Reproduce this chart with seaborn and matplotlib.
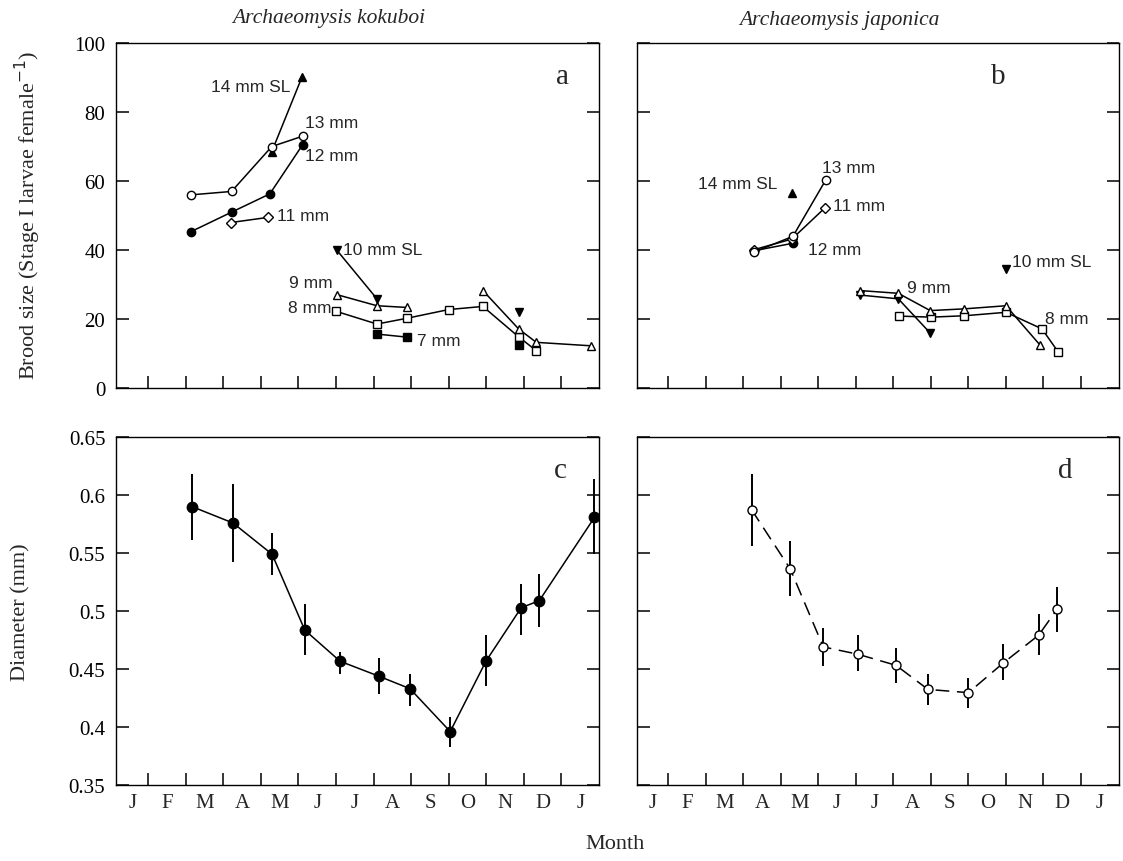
"""Brood size and egg diameter of two Archaeomysis species by month."""
import matplotlib
matplotlib.use("Agg")
import matplotlib.pyplot as plt
import pandas as pd
import seaborn as sns

# month axis: t = 1 is the end of January, t = 12 the end of December
MONTHS = ["J", "F", "M", "A", "M", "J", "J", "A", "S", "O", "N", "D", "J"]

# --- panel a: A. kokuboi brood size by size class (None = gap in line) ---
A_14_T = [4.29, 5.09]
A_14_Y = [68.5, 90.0]
A_13_T = [2.13, 3.22, 4.29, 5.11]
A_13_Y = [56.0, 57.0, 70.0, 73.0]
A_12_T = [2.13, 3.22, 4.24, 5.11]
A_12_Y = [45.3, 51.0, 56.3, 70.5]
A_11_T = [3.20, 4.20]
A_11_Y = [48.0, 49.5]
A_10_T = [6.03, 7.09, None, 10.86]
A_10_Y = [39.9, 25.9, None, 22.0]
A_9_T = [6.03, 7.09, 7.90, None, 9.91, 10.86, 11.33, 12.79]
A_9_Y = [27.1, 23.9, 23.4, None, 28.3, 17.2, 13.3, 12.3]
A_8_T = [6.00, 7.09, 7.90, 9.00, 9.91, 10.86, 11.33]
A_8_Y = [22.3, 18.6, 20.3, 22.8, 23.7, 14.9, 10.9]
A_7_T = [7.09, 7.90, None, 10.86]
A_7_Y = [15.7, 14.8, None, 12.6]

# --- panel b: A. japonica brood size ---
B_14_T = [4.29]
B_14_Y = [56.5]
B_13_T = [3.27, 4.32, 5.20]
B_13_Y = [39.4, 44.0, 60.4]
B_11_T = [3.27, 4.29, 5.17]
B_11_Y = [40.1, 43.2, 52.2]
B_12_T = [3.27, 4.32]
B_12_Y = [39.8, 42.0]
B_9_T = [6.11, 7.13, 7.98, 8.89, 10.00, 10.91]
B_9_Y = [28.3, 27.5, 22.5, 23.0, 23.9, 12.5]
B_10_T = [6.11, 7.13, 7.98, None, 10.00]
B_10_Y = [27.0, 25.9, 16.0, None, 34.5]
B_8_T = [7.16, 8.00, 8.89, 10.00, 10.96, 11.40]
B_8_Y = [20.9, 20.6, 21.0, 22.0, 17.2, 10.4]

# --- panel c: A. kokuboi egg diameter (mean, error bar ends) ---
C_T = [2.18, 3.26, 4.30, 5.17, 6.11, 7.15, 7.97, 9.04, 9.99, 10.93, 11.41, 12.88]
C_MEAN = [0.590, 0.576, 0.549, 0.4835, 0.4566, 0.4436, 0.4329, 0.3959, 0.4566, 0.5029, 0.5089, 0.5809]
C_LOW = [0.561, 0.542, 0.531, 0.4624, 0.4459, 0.4286, 0.4179, 0.383, 0.4353, 0.4797, 0.4858, 0.549]
C_HIGH = [0.618, 0.610, 0.567, 0.506, 0.4647, 0.4598, 0.4457, 0.4084, 0.4791, 0.5233, 0.5317, 0.6143]

# --- panel d: A. japonica egg diameter ---
D_T = [3.22, 4.25, 5.13, 6.05, 7.07, 7.92, 9.00, 9.93, 10.87, 11.36]
D_MEAN = [0.5874, 0.5363, 0.469, 0.4627, 0.4531, 0.4323, 0.4295, 0.4552, 0.4791, 0.5014]
D_LOW = [0.5562, 0.5133, 0.4526, 0.4479, 0.4381, 0.4191, 0.4162, 0.4401, 0.4624, 0.4815]
D_HIGH = [0.6184, 0.5609, 0.4855, 0.4791, 0.4682, 0.4453, 0.4425, 0.4713, 0.497, 0.521]

XMIN, XMAX = 0.157, 13.0
SERIF = ["Liberation Serif", "DejaVu Serif"]
SANS = ["Liberation Sans", "DejaVu Sans"]

sns.set_theme(style="ticks")
plt.rcParams["font.family"] = SERIF
plt.rcParams["axes.linewidth"] = 1.0


def segments(ts, ys):
    """Split a series at None into separate runs."""
    out, cur = [], []
    for t, y in zip(ts, ys):
        if t is None:
            if cur:
                out.append(cur)
            cur = []
        else:
            cur.append((t, y))
    if cur:
        out.append(cur)
    return out


def series(ax, ts, ys, marker, filled, ms=6, ls="-"):
    for seg in segments(ts, ys):
        df = pd.DataFrame(seg, columns=["t", "y"])
        sns.lineplot(data=df, x="t", y="y", ax=ax, sort=False, estimator=None,
                     color="black", lw=1.1, ls=ls, marker=marker, markersize=ms,
                     markerfacecolor="black" if filled else "white",
                     markeredgecolor="black", markeredgewidth=1.0)


def style_axis(ax, ylim, yticks, ylabels, show_x, show_y):
    ax.set_xlim(XMIN, XMAX)
    ax.set_ylim(*ylim)
    ax.set_yticks(yticks)
    ax.set_yticklabels(ylabels if show_y else [])
    ax.set_xticks(range(1, 13))
    ax.set_xticklabels([])
    centers = [(XMIN + 1) / 2] + [m + 0.5 for m in range(1, 13)]
    ax.set_xticks(centers, minor=True)
    ax.set_xticklabels(MONTHS if show_x else [], minor=True)
    ax.tick_params(which="major", direction="in", length=9, width=1.1,
                   right=True, top=False, labelsize=15, colors="black")
    ax.tick_params(axis="x", which="minor", length=0, labelsize=15, pad=6)
    ax.tick_params(axis="y", which="major", labelsize=15, pad=8)
    ax.set_xlabel("")
    ax.set_ylabel("")
    for s in ax.spines.values():
        s.set_visible(True)
        s.set_color("black")


def note(ax, t, y, text, ha="left"):
    ax.text(t, y, text, ha=ha, va="center", fontsize=12.5, family=SANS)


fig = plt.figure(figsize=(11.23, 8.62), dpi=100)
ax_a = fig.add_axes([0.1037, 0.5484, 0.4297, 0.4006])
ax_b = fig.add_axes([0.5670, 0.5484, 0.4290, 0.4006])
ax_c = fig.add_axes([0.1037, 0.0885, 0.4297, 0.4030])
ax_d = fig.add_axes([0.5670, 0.0885, 0.4290, 0.4030])

# panel a
series(ax_a, A_14_T, A_14_Y, "^", True)
series(ax_a, A_12_T, A_12_Y, "o", True)
series(ax_a, A_13_T, A_13_Y, "o", False)
series(ax_a, A_11_T, A_11_Y, "D", False, ms=5.5)
series(ax_a, A_10_T, A_10_Y, "v", True)
series(ax_a, A_8_T, A_8_Y, "s", False, ms=5.5)
series(ax_a, A_9_T, A_9_Y, "^", False)
series(ax_a, A_7_T, A_7_Y, "s", True, ms=6)
note(ax_a, 4.78, 87.5, "14 mm SL", ha="right")
note(ax_a, 5.17, 77.1, "13 mm")
note(ax_a, 5.17, 67.3, "12 mm")
note(ax_a, 4.43, 49.9, "11 mm")
note(ax_a, 6.19, 40.3, "10 mm SL")
note(ax_a, 5.92, 30.7, "9 mm", ha="right")
note(ax_a, 5.89, 23.5, "8 mm", ha="right")
note(ax_a, 8.16, 13.7, "7 mm")

# panel b
series(ax_b, B_14_T, B_14_Y, "^", True)
series(ax_b, B_12_T, B_12_Y, "o", True)
series(ax_b, B_11_T, B_11_Y, "D", False, ms=5.5)
series(ax_b, B_13_T, B_13_Y, "o", False)
series(ax_b, B_10_T, B_10_Y, "v", True)
series(ax_b, B_8_T, B_8_Y, "s", False, ms=5.5)
series(ax_b, B_9_T, B_9_Y, "^", False)
note(ax_b, 3.90, 59.2, "14 mm SL", ha="right")
note(ax_b, 5.10, 63.8, "13 mm")
note(ax_b, 5.39, 52.8, "11 mm")
note(ax_b, 4.73, 40.3, "12 mm")
note(ax_b, 7.37, 29.3, "9 mm")
note(ax_b, 10.16, 36.6, "10 mm SL")
note(ax_b, 11.05, 20.1, "8 mm")

# panels c and d with error bars
for ax, ts, mean, low, high, filled, ls in [
    (ax_c, C_T, C_MEAN, C_LOW, C_HIGH, True, "-"),
    (ax_d, D_T, D_MEAN, D_LOW, D_HIGH, False, (0, (9, 5))),
]:
    err = [[m - lo for m, lo in zip(mean, low)], [hi - m for m, hi in zip(mean, high)]]
    ax.errorbar(ts, mean, yerr=err, fmt="none", ecolor="black", elinewidth=1.4, capsize=0)
    series(ax, ts, mean, "o", filled, ms=7.5 if filled else 6.5, ls=ls)

style_axis(ax_a, (0, 100), range(0, 101, 20), [str(v) for v in range(0, 101, 20)], False, True)
style_axis(ax_b, (0, 100), range(0, 101, 20), [], False, False)
dticks = [0.35, 0.4, 0.45, 0.5, 0.55, 0.6, 0.65]
dlabels = ["0.35", "0.4", "0.45", "0.5", "0.55", "0.6", "0.65"]
style_axis(ax_c, (0.35, 0.65), dticks, dlabels, True, True)
style_axis(ax_d, (0.35, 0.65), dticks, dlabels, True, False)

for ax, letter, x in [(ax_a, "a", 0.925), (ax_b, "b", 0.75), (ax_c, "c", 0.92), (ax_d, "d", 0.89)]:
    ax.text(x, 0.905, letter, transform=ax.transAxes, ha="center", va="center", fontsize=21)

fig.text(0.293, 0.978, "Archaeomysis kokuboi", ha="center", va="center", fontsize=15.5, style="italic")
fig.text(0.747, 0.976, "Archaeomysis japonica", ha="center", va="center", fontsize=15.5, style="italic")
fig.text(0.025, 0.750, "Brood size (Stage I larvae female$^{-1}$)", rotation=90,
         ha="center", va="center", fontsize=16)
fig.text(0.019, 0.290, "Diameter (mm)", rotation=90, ha="center", va="center", fontsize=16)
fig.text(0.548, 0.020, "Month", ha="center", va="center", fontsize=16)

fig.savefig("out.png", dpi=100)
plt.close(fig)
